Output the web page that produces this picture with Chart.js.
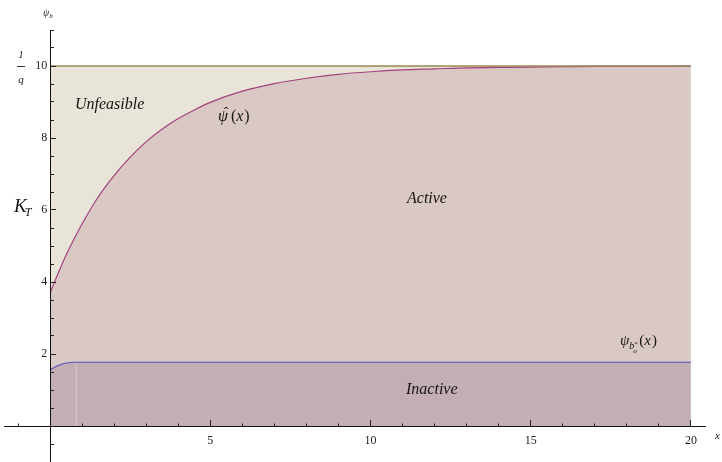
<!DOCTYPE html>
<html><head><meta charset="utf-8">
<script src="https://cdn.jsdelivr.net/npm/chart.js@4.4.1/dist/chart.umd.min.js"></script>
<style>html,body{margin:0;padding:0;background:#fff;}#wrap{width:722px;height:462px;}</style>
</head><body>
<div id="wrap"><canvas id="c" width="722" height="462"></canvas></div>
<script>
// ---- data ----
const xValues   = [0,0.1,0.25,0.5,0.75,1,1.5,2,2.5,3,3.5,4,4.5,5,6,7,8,9,10,11,12,13,14,15,16,17,18,19,20];
const upperBound = [10,10,10,10,10,10,10,10,10,10,10,10,10,10,10,10,10,10,10,10,10,10,10,10,10,10,10,10,10];
const psiHat    = [3.69,3.92,4.24,4.75,5.20,5.62,6.36,6.96,7.47,7.90,8.25,8.54,8.78,8.99,9.30,9.51,9.66,9.77,9.84,9.89,9.92,9.95,9.96,9.97,9.98,9.99,9.99,9.99,10.0];
const psiBo     = [1.55,1.61,1.68,1.75,1.77,1.77,1.77,1.77,1.77,1.77,1.77,1.77,1.77,1.77,1.77,1.77,1.77,1.77,1.77,1.77,1.77,1.77,1.77,1.77,1.77,1.77,1.77,1.77,1.77];
const seamX = [0.82, 0.82];
const seamY = [0, 1.77];
const xTickLabels = [5, 10, 15, 20];
const yTickLabels = [2, 4, 6, 8, 10];

const pts = (xs, ys) => xs.map((x, i) => ({x: x, y: ys[i]}));
const serif = '"Liberation Serif", "DejaVu Serif", serif';
const tickFont = {family: serif, size: 12};
const zeroPad = s => { s.paddingTop = 0; s.paddingBottom = 0; s.paddingLeft = 0; s.paddingRight = 0; };
const hidden = 'rgba(0,0,0,0)';

const mathLabels = {
  id: 'mathLabels',
  afterDraw(chart) {
    const ctx = chart.ctx;
    ctx.save();
    ctx.fillStyle = '#151515';
    ctx.textBaseline = 'alphabetic';
    ctx.textAlign = 'left';
    const it = s => 'italic ' + s + 'px ' + serif;
    const rm = s => s + 'px ' + serif;
    const t = (str, x, y, font) => { ctx.font = font; ctx.fillText(str, x, y); return x + ctx.measureText(str).width; };
    // axis name psi_b
    let e = t('\u03C8', 43, 16, it(10));
    t('b', e, 18, it(7));
    // 1/q
    ctx.textAlign = 'center';
    t('1', 21, 58, it(10));
    t('q', 21, 83, it(11));
    ctx.textAlign = 'left';
    ctx.strokeStyle = '#333'; ctx.lineWidth = 1;
    ctx.beginPath(); ctx.moveTo(17, 66.5); ctx.lineTo(25, 66.5); ctx.stroke();
    // K_T
    e = t('K', 14, 212, it(19));
    t('T', e - 2, 216, it(12));
    // region names
    t('Unfeasible', 75, 109, it(16));
    t('Active', 407, 203, it(16));
    t('Inactive', 406, 394, it(16));
    // psi hat (x)
    e = t('\u03C8', 218, 121, it(16));
    ctx.textAlign = 'center';
    t('\u02C6', 225, 117, it(15));
    ctx.textAlign = 'left';
    e = t('(', e + 3, 121, rm(16));
    e = t('x', e, 121, it(16));
    t(')', e + 1, 121, rm(16));
    // psi_{b_o^*}(x)
    e = t('\u03C8', 620, 345, it(15));
    const bx = e;
    e = t('b', bx, 349, it(10));
    t('*', e, 346, rm(7));
    t('o', e - 1, 353, it(7));
    e = t('(', e + 5, 345, rm(15));
    e = t('x', e, 345, it(15));
    t(')', e + 1, 345, rm(15));
    // x axis name
    t('x', 715, 439, it(11));
    ctx.restore();
  }
};

const gridBase = { drawOnChartArea: false, drawTicks: true, tickWidth: 1, z: 1 };

new Chart(document.getElementById('c'), {
  type: 'line',
  data: {
    datasets: [
      { data: pts(xValues, upperBound), borderColor: '#9a8a55', borderWidth: 1.4, pointRadius: 0,
        fill: '+1', backgroundColor: '#e8e4d8', tension: 0 },
      { data: pts(xValues, psiHat), borderColor: '#a3417e', borderWidth: 1.2, pointRadius: 0,
        fill: '+1', backgroundColor: '#d9c8c3', cubicInterpolationMode: 'monotone' },
      { data: pts(xValues, psiBo), borderColor: '#5252b4', borderWidth: 1.1, pointRadius: 0,
        fill: 'origin', backgroundColor: '#c3afb3', cubicInterpolationMode: 'monotone' },
      { data: pts(seamX, seamY), borderColor: 'rgba(215,200,203,0.9)', borderWidth: 1, pointRadius: 0, fill: false }
    ]
  },
  options: {
    responsive: false,
    animation: false,
    events: [],
    layout: { padding: { left: 4, right: 17, top: 30, bottom: 0 } },
    plugins: { legend: { display: false }, tooltip: { enabled: false }, filler: { drawTime: 'beforeDatasetsDraw' } },
    scales: {
      x: { type: 'linear', axis: 'x', min: -1.44, max: 20.44, position: { y: 0 },
        grid: Object.assign({}, gridBase, { tickLength: -3.5, tickColor: '#222' }),
        border: { display: true, color: '#111', width: 1, z: 1 },
        ticks: { stepSize: 1, autoSkip: false, includeBounds: false, display: false },
        afterFit: zeroPad },
      xMajor: { type: 'linear', axis: 'x', min: -1.44, max: 20.44, position: { y: 0 },
        grid: Object.assign({}, gridBase, { tickLength: -6,
          tickColor: c => (c.tick && xTickLabels.includes(c.tick.value)) ? '#222' : hidden }),
        border: { display: false },
        ticks: { stepSize: 1, autoSkip: false, includeBounds: false, padding: 14, font: tickFont, color: '#222', z: 1,
          minRotation: 0, maxRotation: 0, callback: v => xTickLabels.includes(v) ? String(v) : '' },
        afterFit: zeroPad },
      y: { type: 'linear', axis: 'y', min: -1, max: 11, position: { x: 0 },
        grid: Object.assign({}, gridBase, { tickLength: -4, tickColor: '#222' }),
        border: { display: true, color: '#111', width: 1, z: 1 },
        ticks: { stepSize: 0.5, autoSkip: false, includeBounds: false, display: false },
        afterFit: zeroPad },
      yMajor: { type: 'linear', axis: 'y', min: -1, max: 11, position: { x: 0 },
        grid: Object.assign({}, gridBase, { tickLength: -6,
          tickColor: c => (c.tick && yTickLabels.includes(c.tick.value)) ? '#222' : hidden }),
        border: { display: false },
        ticks: { stepSize: 0.5, autoSkip: false, includeBounds: false, padding: 4, font: tickFont, color: '#222', z: 1,
          callback: v => yTickLabels.includes(v) ? String(v) + ' ' : '' },
        afterFit: zeroPad }
    }
  },
  plugins: [mathLabels]
});
</script>
</body></html>
